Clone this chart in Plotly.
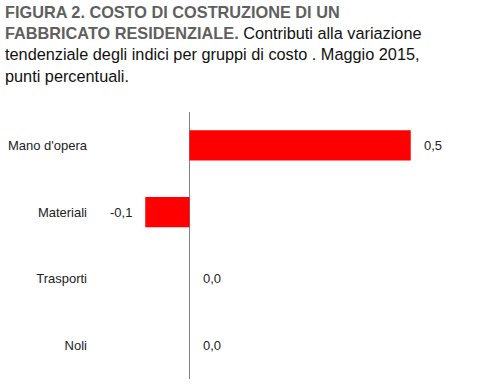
import plotly.graph_objects as go

categories = ["Mano d'opera", "Materiali", "Trasporti", "Noli"]
values = [0.5, -0.1, 0.0, 0.0]
labels = ["0,5", "-0,1", "0,0", "0,0"]

W, H = 477, 389
L, R, T, B = 101, 22, 112, 10
PW = W - L - R
PH = H - T - B
FONT = "Liberation Sans, Arial, sans-serif"

fig = go.Figure()
fig.add_trace(go.Bar(
    x=values, y=categories, orientation="h",
    marker=dict(color="#ff0000", line=dict(width=0)),
    width=0.45, hoverinfo="skip",
))

annotations = []
for c, v, t in zip(categories, values, labels):
    neg = v < 0
    annotations.append(dict(
        x=v, y=c, xref="x", yref="y", text=t, showarrow=False,
        xanchor="right" if neg else "left",
        xshift=-11 if neg else 11,
        font=dict(family=FONT, size=13, color="#222222"),
    ))

title_text = ("<b><span style='color:#5f5f5f'>FIGURA 2. COSTO DI COSTRUZIONE DI UN<br>"
              "FABBRICATO RESIDENZIALE.</span></b> Contributi alla variazione<br>"
              "tendenziale degli indici per gruppi di costo . Maggio 2015,<br>"
              "punti percentuali.")
annotations.append(dict(
    text=title_text, showarrow=False, align="left",
    xref="paper", yref="paper",
    x=(3 - L) / PW, y=1 + (T - 1) / PH,
    xanchor="left", yanchor="top",
    font=dict(family=FONT, size=16.3, color="#111111"),
))

fig.update_layout(
    width=W, height=H,
    margin=dict(l=L, r=R, t=T, b=B),
    paper_bgcolor="white", plot_bgcolor="white",
    showlegend=False,
    xaxis=dict(
        range=[-0.2, 0.6], showgrid=False, showticklabels=False, ticks="",
        zeroline=True, zerolinecolor="#808080", zerolinewidth=1, showline=False,
        fixedrange=True, automargin=False,
    ),
    yaxis=dict(
        autorange="reversed", showgrid=False, ticks="", showline=False,
        zeroline=False, automargin=False,
        tickfont=dict(family=FONT, size=13, color="#222222"),
        ticklabelstandoff=13,
    ),
    annotations=annotations,
)

fig.write_html("out.html", config={"displayModeBar": False},
               post_script="document.body.style.margin='0';")
